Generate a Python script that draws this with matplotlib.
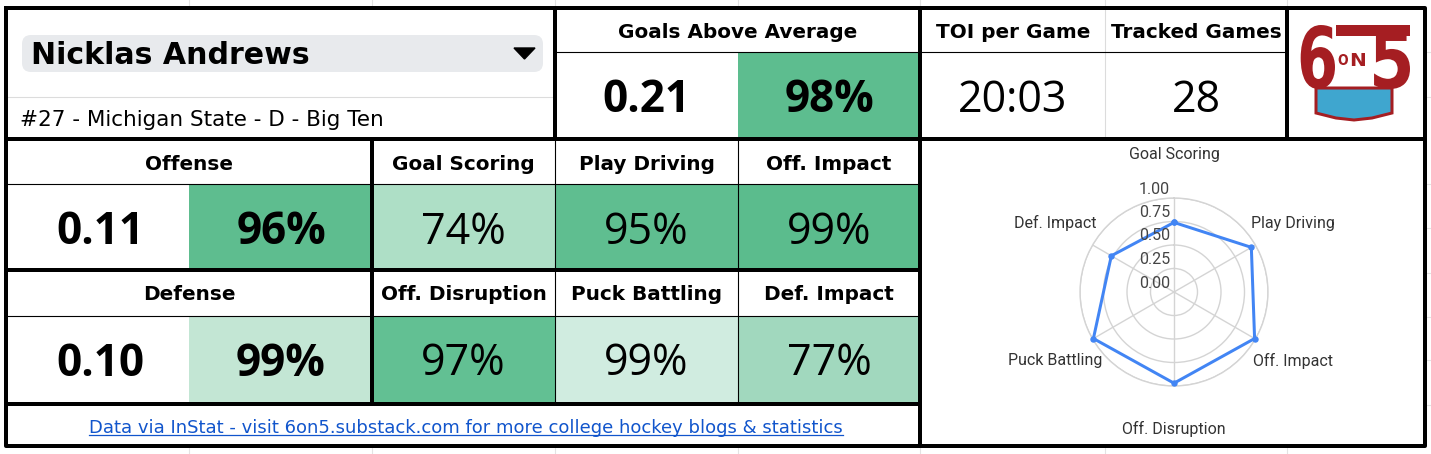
import matplotlib
matplotlib.use("Agg")
import matplotlib.pyplot as plt
import numpy as np
from matplotlib.patches import Rectangle, FancyBboxPatch, Polygon, PathPatch
from matplotlib.textpath import TextPath
from matplotlib.font_manager import FontProperties
from matplotlib.transforms import Affine2D, offset_copy

# --- data -----------------------------------------------------------------
player_name = "Nicklas Andrews"
player_info = "#27 - Michigan State - D - Big Ten"

gaa_value = 0.21
gaa_pct = 98
toi_per_game = "20:03"
tracked_games = 28

offense_value = 0.11
offense_pct = 96
defense_value = 0.10
defense_pct = 99

off_labels = ["Goal Scoring", "Play Driving", "Off. Impact"]
off_pcts = [74, 95, 99]
def_labels = ["Off. Disruption", "Puck Battling", "Def. Impact"]
def_pcts = [97, 99, 77]

radar_labels = off_labels + def_labels
radar_values = [p / 100 for p in off_pcts + def_pcts]
radar_ticks = [0.0, 0.25, 0.5, 0.75, 1.0]

footer = "Data via InStat - visit 6on5.substack.com for more college hockey blogs & statistics"

# cell fill colours (sheet colour scale)
gaa_color = "#5dbd8f"
offense_color = "#5ebd8f"
defense_color = "#c3e6d4"
off_colors = ["#aedfc6", "#5fbe90", "#5bbc8d"]
def_colors = ["#62c093", "#d0ece0", "#a1d8be"]

BOLD = "DejaVu Sans"
REG = "DejaVu Sans"
NUM = "Open Sans"

W, H = 1431, 454
fig = plt.figure(figsize=(W / 100, H / 100), dpi=100)
ax = fig.add_axes([0, 0, 1, 1])
ax.set_xlim(0, W)
ax.set_ylim(H, 0)
ax.axis("off")


def pt(px):
    return px * 0.72


# faint spreadsheet gridlines outside the frame
faint = "#e3e3e3"
for x in [189, 372, 555, 738, 920, 1105, 1287]:
    ax.plot([x, x], [0, 8], color=faint, lw=0.8)
    ax.plot([x, x], [446, H], color=faint, lw=0.8)
for y in [52, 97, 184, 228, 273, 317, 360, 405]:
    ax.plot([1425, W], [y, y], color=faint, lw=0.8)

# cell fills
ax.add_patch(Rectangle((738, 52), 182, 87, color=gaa_color, lw=0))
ax.add_patch(Rectangle((189, 184), 183, 86, color=offense_color, lw=0))
ax.add_patch(Rectangle((189, 316), 183, 88, color=defense_color, lw=0))
cols = [372, 555, 738, 920]
for i in range(3):
    ax.add_patch(Rectangle((cols[i], 184), cols[i + 1] - cols[i], 86, color=off_colors[i], lw=0))
    ax.add_patch(Rectangle((cols[i], 316), cols[i + 1] - cols[i], 88, color=def_colors[i], lw=0))

# thin grey lines
ax.plot([6, 555], [97, 97], color="#dcdcdc", lw=0.8)
ax.plot([1105, 1105], [8, 139], color="#dcdcdc", lw=0.8)

# thin black lines
thin = dict(color="black", lw=0.8)
ax.plot([555, 1287], [52, 52], **thin)
ax.plot([6, 920], [184, 184], **thin)
ax.plot([6, 920], [316, 316], **thin)
for x in [555, 738]:
    ax.plot([x, x], [139, 404], **thin)

# thick black lines
thick = dict(color="black", lw=pt(4), solid_capstyle="projecting")
ax.plot([6, 1425, 1425, 6, 6], [8, 8, 446, 446, 8], **thick)
ax.plot([555, 555], [8, 139], **thick)
ax.plot([920, 920], [8, 446], **thick)
ax.plot([1287, 1287], [8, 139], **thick)
ax.plot([6, 1425], [139, 139], **thick)
ax.plot([6, 920], [270, 270], **thick)
ax.plot([6, 920], [404, 404], **thick)
ax.plot([372, 372], [139, 404], **thick)

# name dropdown
ax.add_patch(FancyBboxPatch((22, 35), 521, 37, boxstyle="round,pad=0,rounding_size=9",
                            fc="#e8eaed", ec="none"))
ax.add_patch(Polygon([(514, 48), (535, 48), (524.5, 59)], closed=True, color="black"))
ax.text(31, 55, player_name, fontsize=pt(30), fontweight="bold", family=BOLD,
        ha="left", va="center")
ax.text(20, 120, player_info, fontsize=pt(21.5), family=REG, ha="left", va="center")

hdr = dict(fontsize=pt(20), fontweight="bold", family=BOLD, ha="center", va="center")
big_b = dict(fontsize=pt(44), fontweight="bold", family="Open Sans", ha="center", va="center")
big_r = dict(fontsize=pt(43), family=NUM, ha="center", va="center")

ax.text(738, 32, "Goals Above Average", **hdr)
ax.text(646, 101, f"{gaa_value:.2f}", **big_b)
ax.text(830, 101, f"{gaa_pct}%", **big_b)

ax.text(1013, 32, "TOI per Game", **hdr)
ax.text(1196, 32, "Tracked Games", **hdr)
ax.text(1013, 101, toi_per_game, **big_r)
ax.text(1196, 101, str(tracked_games), **big_r)

ax.text(189, 164, "Offense", **hdr)
ax.text(100, 233, f"{offense_value:.2f}", **big_b)
ax.text(281, 233, f"{offense_pct}%", **big_b)
ax.text(189, 295, "Defense", **hdr)
ax.text(100, 364, f"{defense_value:.2f}", **big_b)
ax.text(281, 364, f"{defense_pct}%", **big_b)

centers = [(cols[i] + cols[i + 1]) / 2 for i in range(3)]
for cx, lab, p in zip(centers, off_labels, off_pcts):
    ax.text(cx, 164, lab, **hdr)
    ax.text(cx, 233, f"{p}%", **big_r)
for cx, lab, p in zip(centers, def_labels, def_pcts):
    ax.text(cx, 295, lab, **hdr)
    ax.text(cx, 364, f"{p}%", **big_r)

foot = ax.text(466, 428, footer, fontsize=pt(18), family=REG, color="#1155cc",
               ha="center", va="center")

# logo
red = "#a51e22"
def glyph(ch, x0, x1, y0, y1):
    tp = TextPath((0, 0), ch, size=100, prop=FontProperties(family="DejaVu Sans", weight="bold"))
    v = tp.vertices
    bx0, by0 = v[:, 0].min(), v[:, 1].min()
    bx1, by1 = v[:, 0].max(), v[:, 1].max()
    tr = Affine2D().translate(-bx0, -by0).scale((x1 - x0) / (bx1 - bx0), -(y1 - y0) / (by1 - by0)).translate(x0, y1)
    ax.add_patch(PathPatch(tr.transform_path(tp), fc=red, ec="none"))

glyph("6", 1297, 1335, 25, 89)
glyph("5", 1369, 1410, 30, 89)
ax.add_patch(Rectangle((1336, 25), 74, 11, color=red, lw=0))
glyph("O", 1338, 1348, 54, 65)
glyph("N", 1350, 1365, 53, 66)
bucket = [(1316, 88), (1392, 88), (1392, 113), (1372, 118), (1354, 120),
          (1336, 118), (1316, 113)]
ax.add_patch(Polygon(bucket, closed=True, fc="#3fa6cf", ec=red, lw=pt(3)))

# radar
cx, cy, R = 1174, 292, 94
rax = fig.add_axes([(cx - R) / W, (H - cy - R) / H, 2 * R / W, 2 * R / H], projection="polar")
rax.set_theta_zero_location("N")
rax.set_theta_direction(-1)
rax.set_facecolor("none")
angles = np.linspace(0, 2 * np.pi, len(radar_labels), endpoint=False)
rax.set_ylim(0, 1)
rax.set_rgrids([0.25, 0.5, 0.75, 1.0], labels=[""] * 4)
rax.set_thetagrids(np.degrees(angles), labels=[""] * len(angles))
rax.grid(color="#d4d4d4", lw=1.0)
rax.spines["polar"].set_color("#d4d4d4")
rax.spines["polar"].set_linewidth(1.0)
vals = radar_values + radar_values[:1]
angs = list(angles) + [angles[0]]
rax.plot(angs, vals, color="#4285f4", lw=pt(3), marker="o", ms=pt(5), clip_on=False, zorder=5)
lab_tr = offset_copy(rax.transData, fig=fig, x=-4, y=9, units="dots")
for t in radar_ticks:
    rax.text(0, t, f"{t:.2f}", transform=lab_tr, ha="right", va="center",
             fontsize=pt(16), family="Roboto", color="#444444", zorder=6)
for a, lab in zip(angles, radar_labels):
    rax.text(a, 1.46, lab, ha="center", va="center", fontsize=pt(16),
             family="Roboto", color="#333333")

# underline footer link
fig.canvas.draw()
bb = foot.get_window_extent(fig.canvas.get_renderer())
inv = ax.transData.inverted()
(x0, yb), (x1, _) = inv.transform([(bb.x0, bb.y0), (bb.x1, bb.y1)])
ax.plot([x0, x1], [yb - 2, yb - 2], color="#1155cc", lw=0.9)

fig.savefig("out.png", dpi=100)
